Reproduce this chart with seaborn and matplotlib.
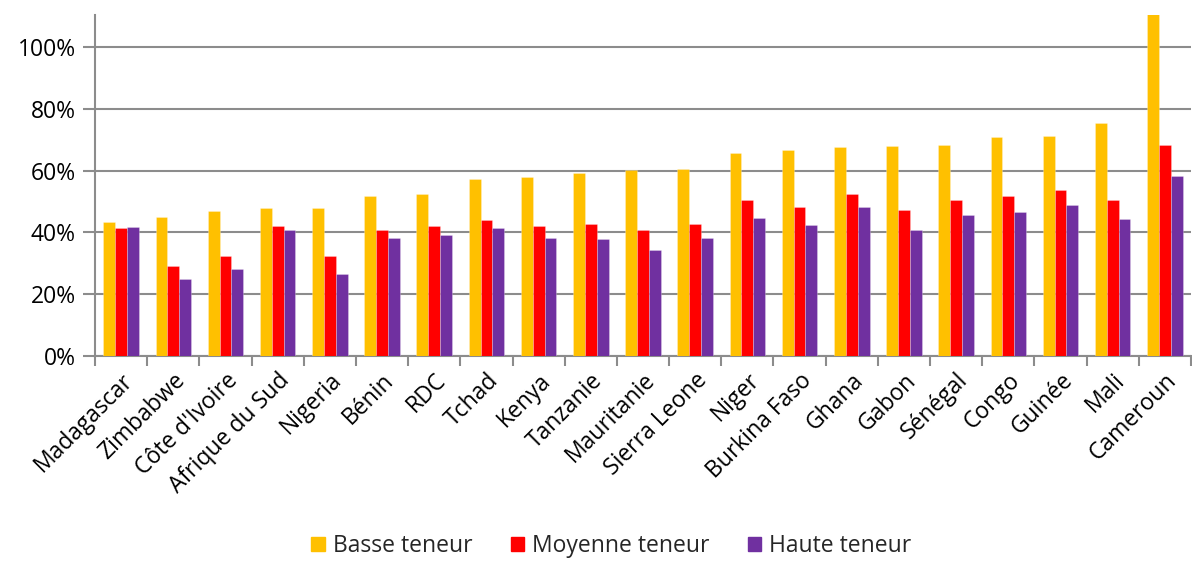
import numpy as np
import pandas as pd
import matplotlib
matplotlib.use("Agg")
import matplotlib.pyplot as plt
import seaborn as sns
from matplotlib.ticker import FixedLocator, PercentFormatter

countries = ["Madagascar", "Zimbabwe", "Côte d'Ivoire", "Afrique du Sud", "Nigeria",
             "Bénin", "RDC", "Tchad", "Kenya", "Tanzanie", "Mauritanie", "Sierra Leone",
             "Niger", "Burkina Faso", "Ghana", "Gabon", "Sénégal", "Congo", "Guinée",
             "Mali", "Cameroun"]
basse = [43.2, 44.8, 47.0, 47.8, 48.0, 51.9, 52.5, 57.3, 57.9, 59.1, 60.2, 60.4,
         65.7, 66.6, 67.5, 67.8, 68.1, 70.8, 71.3, 75.4, 115.0]
moyenne = [41.3, 29.1, 32.3, 42.0, 32.5, 40.8, 41.9, 44.0, 42.1, 42.8, 40.8, 42.8,
           50.5, 48.2, 52.3, 47.2, 50.3, 51.6, 53.6, 50.6, 68.2]
haute = [41.6, 25.0, 28.0, 40.6, 26.5, 38.1, 39.1, 41.3, 38.1, 38.0, 34.2, 38.1,
         44.5, 42.3, 48.3, 40.9, 45.5, 46.7, 49.0, 44.2, 58.2]
series = ["Basse teneur", "Moyenne teneur", "Haute teneur"]
colors = ["#FFC000", "#FF0000", "#7030A0"]
yticks = [0, 20, 40, 60, 80, 100]

df = pd.DataFrame({"Pays": countries, series[0]: basse, series[1]: moyenne, series[2]: haute})
long = df.melt(id_vars="Pays", var_name="Série", value_name="Valeur")

sns.set_theme(style="white")
plt.rcParams["font.family"] = ["Open Sans", "DejaVu Sans"]
FS = 16.5

fig = plt.figure(figsize=(11.92, 5.62), dpi=100)
ax = fig.add_axes([95 / 1192, 1 - 356 / 562, 1096 / 1192, (356 - 15) / 562])

sns.barplot(data=long, x="Pays", y="Valeur", hue="Série", hue_order=series,
            palette=colors, order=countries, width=0.68, ax=ax,
            edgecolor=(1, 1, 1, 0.35), linewidth=0.5, saturation=1, errorbar=None, zorder=3)

ax.set_ylim(0, 110.3)
ax.set_xlim(-0.5, len(countries) - 0.5)
ax.yaxis.set_major_locator(FixedLocator(yticks))
ax.yaxis.set_major_formatter(PercentFormatter(decimals=0))
ax.grid(axis="y", color="#8c8c8c", linewidth=1.5, zorder=0)
ax.set_axisbelow(True)
ax.set_xlabel("")
ax.set_ylabel("")

for s in ["top", "right"]:
    ax.spines[s].set_visible(False)
for s in ["left", "bottom"]:
    ax.spines[s].set_color("#8c8c8c")
    ax.spines[s].set_linewidth(1.5)

ax.tick_params(axis="y", which="major", left=True, length=9, width=1.5, color="#8c8c8c",
               labelsize=FS, labelcolor="black", pad=5)
ax.tick_params(axis="x", which="major", bottom=False, labelsize=FS, labelcolor="black", pad=3)
ax.xaxis.set_minor_locator(FixedLocator(np.arange(-0.5, len(countries), 1.0)))
ax.tick_params(axis="x", which="minor", bottom=True, length=7, width=1.5, color="#8c8c8c")
for lab in ax.get_xticklabels():
    lab.set_rotation(45)
    lab.set_ha("right")
    lab.set_rotation_mode("anchor")

ax.get_legend().remove()
handles = [plt.Rectangle((0, 0), 1, 1, color=c) for c in colors]
fig.legend(handles, series, loc="lower center", bbox_to_anchor=(0.513, -0.03), ncol=3,
           frameon=False, fontsize=FS, handlelength=0.6, handleheight=0.6,
           handletextpad=0.35, columnspacing=1.65)

fig.savefig("out.png", dpi=100)
